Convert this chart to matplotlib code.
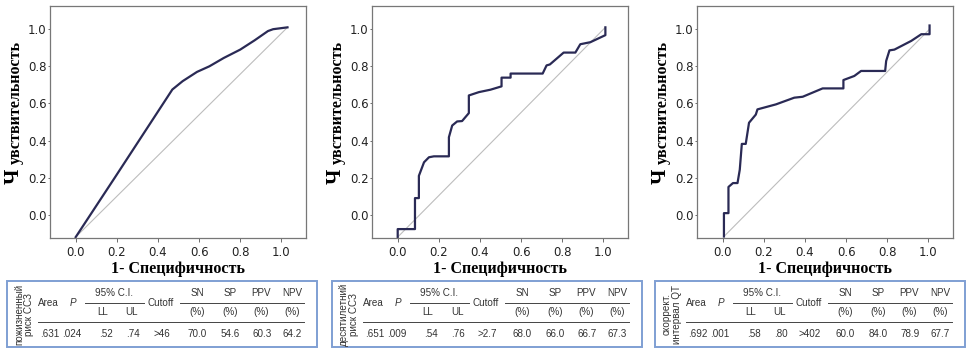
import numpy as np
import matplotlib
matplotlib.use("Agg")
from matplotlib import pyplot as plt
from matplotlib.lines import Line2D
from matplotlib.patches import Rectangle

# ROC curves (1-specificity, sensitivity)
fpr_1 = [0.0, 0.19, 0.47, 0.52, 0.59, 0.65, 0.72, 0.80, 0.87, 0.935, 0.96, 1.03]
tpr_1 = [-0.12, 0.20, 0.675, 0.72, 0.77, 0.80, 0.845, 0.89, 0.94, 0.99, 1.0, 1.01]

fpr_2 = [0.0, 0.0, 0.084, 0.084, 0.103, 0.103, 0.128, 0.152, 0.176, 0.249, 0.249, 0.265, 0.289,
         0.313, 0.346, 0.346, 0.395, 0.451, 0.505, 0.505, 0.549, 0.549, 0.705, 0.724, 0.74,
         0.807, 0.864, 0.888, 0.937, 0.985, 1.01, 1.01]
tpr_2 = [-0.12, -0.077, -0.077, 0.09, 0.09, 0.21, 0.283, 0.31, 0.315, 0.315, 0.418, 0.481, 0.503,
         0.505, 0.548, 0.643, 0.661, 0.674, 0.692, 0.739, 0.739, 0.761, 0.761, 0.805, 0.81,
         0.874, 0.874, 0.919, 0.93, 0.955, 0.968, 1.01]

fpr_3 = [0.006, 0.006, 0.028, 0.028, 0.05, 0.072, 0.083, 0.093, 0.112, 0.128, 0.161, 0.169,
         0.259, 0.348, 0.389, 0.486, 0.587, 0.587, 0.64, 0.673, 0.79, 0.795, 0.811, 0.835,
         0.917, 0.966, 1.006, 1.006]
tpr_3 = [-0.117, 0.009, 0.009, 0.15, 0.171, 0.171, 0.243, 0.382, 0.382, 0.496, 0.54, 0.568,
         0.595, 0.631, 0.636, 0.681, 0.681, 0.726, 0.748, 0.775, 0.775, 0.829, 0.886, 0.89,
         0.937, 0.973, 0.973, 1.02]

diag_ends = [((0.0, -0.12), (1.03, 1.01)),
             ((0.0, -0.12), (1.01, 1.01)),
             ((0.006, -0.117), (1.006, 1.0))]

# table contents
row_names = [("пожизненный", "риск ССЗ"),
             ("десятилетний", "риск ССЗ"),
             ("скоррект.", "интервал QT")]
areas = [".631", ".651", ".692"]
p_vals = [".024", ".009", ".001"]
ci_ll = [".52", ".54", ".58"]
ci_ul = [".74", ".76", ".80"]
cutoffs = [">46", ">2.7", ">402"]
sn = ["70.0", "68.0", "60.0"]
sp = ["54.6", "66.0", "84.0"]
ppv = ["60.3", "66.7", "78.9"]
npv = ["64.2", "67.3", "67.7"]

W, H = 968, 352
fig = plt.figure(figsize=(W / 100, H / 100), dpi=100)


def fx(x):
    return x / W


def fy(y):
    return 1 - y / H


curves = [(fpr_1, tpr_1), (fpr_2, tpr_2), (fpr_3, tpr_3)]
ax_left = [50, 372, 697]
ax_w = 256
serif = "Liberation Serif"

for i, (fx_, ty_) in enumerate(curves):
    ax = fig.add_axes([fx(ax_left[i]), fy(238), ax_w / W, 232 / H])
    (x0, y0), (x1, y1) = diag_ends[i]
    ax.plot([x0, x1], [y0, y1], color="#bdbdbd", lw=0.8)
    ax.plot(fx_, ty_, color="#2a2a55", lw=1.6, solid_joinstyle="round")
    ax.set_xlim(-0.125, 1.12)
    ax.set_ylim(-0.125, 1.125)
    ax.set_xticks([0.0, 0.2, 0.4, 0.6, 0.8, 1.0])
    ax.set_yticks([0.0, 0.2, 0.4, 0.6, 0.8, 1.0])
    ax.xaxis.set_major_formatter(matplotlib.ticker.FormatStrFormatter("%.1f"))
    ax.yaxis.set_major_formatter(matplotlib.ticker.FormatStrFormatter("%.1f"))
    ax.tick_params(labelsize=8.5, width=0.6, color="#555555", labelcolor="#222222")
    ax.tick_params(axis="x", length=3, pad=2.5)
    ax.tick_params(axis="y", length=1.5, pad=1)
    for s in ax.spines.values():
        s.set_color("#777777")
        s.set_linewidth(0.9)
    ax.set_xlabel("1- Специфичность", family=serif, fontweight="bold", fontsize=11.5, labelpad=2)
    # y label: first letter drawn larger, as in the source
    lx = ax_left[i] - 35
    fig.text(fx(lx - 1), fy(184), "Ч", rotation=90, family=serif, fontweight="bold",
             fontsize=15, ha="center", va="bottom")
    fig.text(fx(lx + 1), fy(164), "увствительность", rotation=90, family=serif,
             fontweight="bold", fontsize=11.5, ha="center", va="bottom")

# tables under the plots
tab_x = [0, 325, 648]
txt_kw = dict(fontsize=7.1, color="#333333", family="Liberation Sans", ha="center", va="center")

for i, ox in enumerate(tab_x):
    fig.patches.append(Rectangle((fx(ox + 7), fy(347)), 310 / W, 66 / H, transform=fig.transFigure,
                                 fill=False, edgecolor="#7f9fd3", lw=1.4))
    fig.text(fx(ox + 19), fy(314), row_names[i][0], rotation=90, **txt_kw)
    fig.text(fx(ox + 29), fy(314), row_names[i][1], rotation=90, **txt_kw)
    fig.text(fx(ox + 48), fy(303), "Area", **txt_kw)
    fig.text(fx(ox + 73), fy(303), "P", style="italic", **txt_kw)
    fig.text(fx(ox + 114), fy(293), "95% C.I.", **txt_kw)
    fig.text(fx(ox + 103), fy(312), "LL", **txt_kw)
    fig.text(fx(ox + 132), fy(312), "UL", **txt_kw)
    fig.text(fx(ox + 161), fy(303), "Cutoff", **txt_kw)
    for lab, cx in zip(["SN", "SP", "PPV", "NPV"], [197, 230, 261, 292]):
        fig.text(fx(ox + cx), fy(293), lab, **txt_kw)
        fig.text(fx(ox + cx), fy(312), "(%)", **txt_kw)
    row = [areas[i], p_vals[i], ci_ll[i], ci_ul[i], cutoffs[i], sn[i], sp[i], ppv[i], npv[i]]
    for val, cx in zip(row, [50, 72, 106, 133, 162, 197, 230, 262, 292]):
        fig.text(fx(ox + cx), fy(334), val, **txt_kw)
    for xa, xb, yy in [(85, 144, 303), (180, 304, 303), (38, 304, 322)]:
        fig.lines.append(Line2D([fx(ox + xa), fx(ox + xb)], [fy(yy), fy(yy)],
                                transform=fig.transFigure, color="#444444", lw=0.7))

fig.savefig("out.png", dpi=100)
